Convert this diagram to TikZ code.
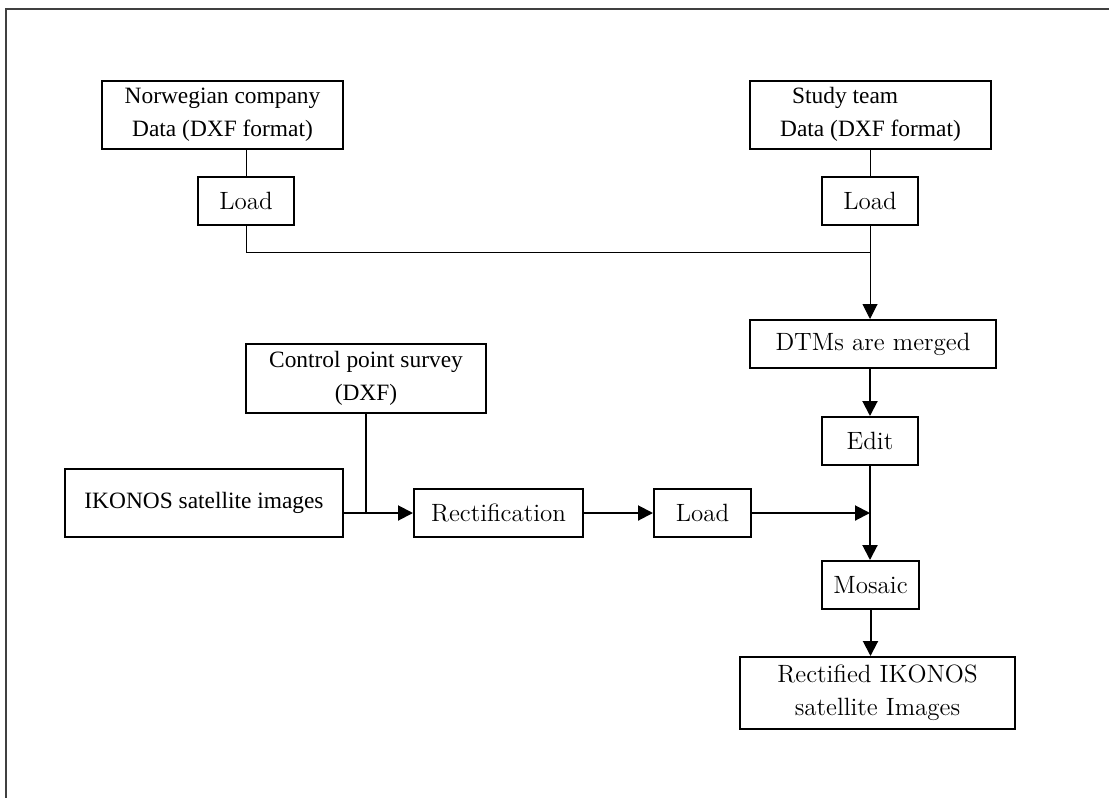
\documentclass[tikz,border=0pt]{standalone}
\usepackage{fontspec}
\newfontfamily\tmsfont{Liberation Serif}
\usetikzlibrary{arrows.meta}

\begin{document}
\begin{tikzpicture}[
    x=0.5pt, y=-0.5pt,
    blk/.style={draw, line width=1pt, inner sep=0pt, align=center, minimum height=24pt, font=\fontsize{12.5}{16.7}\selectfont},
    tblk/.style={draw, line width=1pt, inner sep=0pt, align=center, minimum height=34pt, font=\tmsfont\fontsize{11.7}{16.5}\selectfont},
    conn/.style={-{Triangle[length=7.5pt,width=7.5pt]}, line width=1pt},
    tconn/.style={-{Triangle[length=7.5pt,width=7.5pt]}, line width=0.5pt},
    ln/.style={line width=0.5pt},
    tkln/.style={line width=1pt}
]
\useasboundingbox (0,0) rectangle (1109,798);
% --- frame ---
\draw[line width=0.8pt, black!75] (6,798) -- (6,9) -- (1109,9);

% --- DTM sources ---
\node[tblk, minimum width=120.5pt] (nor) at (222.5,115) {Norwegian company\\Data (DXF format)};
\node[tblk, minimum width=120.5pt, align=left] (st) at (870.5,114.5) {\hspace*{6pt}Study team\\Data (DXF format)};
\node[blk, minimum width=48pt] (ld1) at (246,201) {Load};
\node[blk, minimum width=48pt] (ld2) at (870,201) {Load};
\coordinate (mg) at (870,252);

% --- DTM processing ---
\node[blk, minimum width=123pt] (dtm) at (873,344) {DTMs are merged};
\node[blk, minimum width=48pt] (edit) at (870,441) {Edit};
\node[blk, minimum width=48.5pt] (mos) at (870.5,585) {Mosaic};
\node[blk, minimum width=137.5pt, minimum height=36pt] (out) at (877.5,693) {Rectified IKONOS\\satellite Images};

% --- image rectification ---
\node[tblk, minimum width=120pt, minimum height=34.5pt] (ctl) at (366,378.5) {Control point survey\\(DXF)};
\node[tblk, minimum width=139pt] (iko) at (204,503) {IKONOS satellite images};
\node[blk, minimum width=84.5pt] (rect) at (498.5,513) {Rectification};
\node[blk, minimum width=48.5pt] (ld3) at (702.5,513) {Load};

% --- connections ---
\draw[ln] (ld1.north |- nor.south) -- (ld1.north);
\draw[ln] (ld1.south) |- (mg);
\draw[ln] (ld2.north |- st.south) -- (ld2.north);
\draw[ln] (ld2.south) -- (mg);
\draw[tconn] (mg) -- (mg |- dtm.north);
\draw[conn] (edit.north |- dtm.south) -- (edit.north);
\draw[conn] (edit.south) -- (edit.south |- mos.north);
\draw[conn] (mos.south) -- (mos.south |- out.north);

\draw[conn] (iko.east |- rect.west) -- (rect.west);
\draw[tkln] (ctl.south) -- (ctl.south |- rect.west);
\draw[conn] (rect) -- (ld3);
\draw[conn] (ld3) -- (edit.south |- ld3.east);
\end{tikzpicture}
\end{document}
